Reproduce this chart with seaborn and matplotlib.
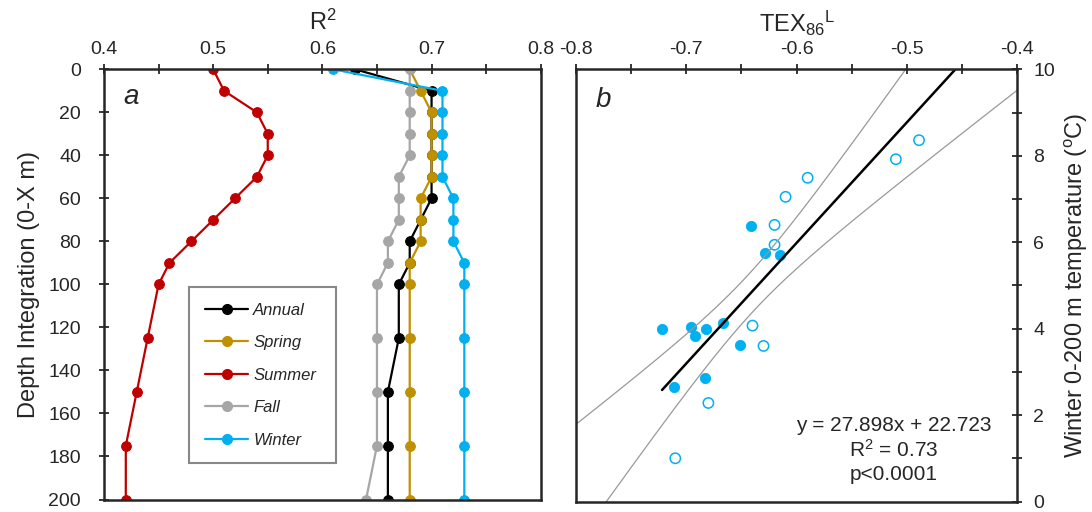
import numpy as np
import pandas as pd
import seaborn as sns
import matplotlib.pyplot as plt
from matplotlib.ticker import MultipleLocator
from matplotlib.lines import Line2D

# %%
depth = [0, 10, 20, 30, 40, 50, 60, 70, 80, 90, 100, 125, 150, 175, 200]
annual = [0.63, 0.70, 0.70, 0.70, 0.70, 0.70, 0.70, 0.69, 0.68, 0.68, 0.67, 0.67, 0.66, 0.66, 0.66]
spring = [0.68, 0.69, 0.70, 0.70, 0.70, 0.70, 0.69, 0.69, 0.69, 0.68, 0.68, 0.68, 0.68, 0.68, 0.68]
summer = [0.50, 0.51, 0.54, 0.55, 0.55, 0.54, 0.52, 0.50, 0.48, 0.46, 0.45, 0.44, 0.43, 0.42, 0.42]
fall = [0.68, 0.68, 0.68, 0.68, 0.68, 0.67, 0.67, 0.67, 0.66, 0.66, 0.65, 0.65, 0.65, 0.65, 0.64]
winter = [0.61, 0.71, 0.71, 0.71, 0.71, 0.71, 0.72, 0.72, 0.72, 0.73, 0.73, 0.73, 0.73, 0.73, 0.73]

season_names = ['Annual', 'Spring', 'Summer', 'Fall', 'Winter']
season_colors = ['#000000', '#bf9000', '#c00000', '#a6a6a6', '#00b0f0']

# panel b: TEX86L vs winter temperature
tex_filled = [-0.722, -0.696, -0.692, -0.682, -0.667, -0.651, -0.683, -0.711, -0.641, -0.629, -0.615]
temp_filled = [4.00, 4.04, 3.84, 4.00, 4.12, 3.62, 2.85, 2.64, 6.38, 5.74, 5.70]
tex_open = [-0.489, -0.510, -0.590, -0.610, -0.620, -0.620, -0.640, -0.630, -0.680, -0.710]
temp_open = [8.36, 7.92, 7.49, 7.05, 6.40, 5.94, 4.07, 3.60, 2.28, 1.00]

slope = 27.898
intercept = 22.723

# %%
sns.set_style('ticks')
plt.rcParams['font.family'] = ['Liberation Sans', 'DejaVu Sans']
plt.rcParams['mathtext.fontset'] = 'custom'
plt.rcParams['mathtext.rm'] = 'Liberation Sans'
plt.rcParams['mathtext.it'] = 'Liberation Sans:italic'
plt.rcParams['axes.unicode_minus'] = False

fig = plt.figure(figsize=(10.92, 5.12), dpi=100)
ax1 = fig.add_axes([0.0952, 0.0244, 0.4, 0.8402])
ax2 = fig.add_axes([0.5275, 0.0205, 0.404, 0.8441])

# %% panel a
df = pd.DataFrame({'depth': depth, 'Annual': annual, 'Spring': spring,
                   'Summer': summer, 'Fall': fall, 'Winter': winter})
for name, col in zip(season_names, season_colors):
    sns.lineplot(data=df, x=name, y='depth', orient='y', estimator=None, sort=True,
                 color=col, lw=1.6, marker='o', markersize=7, markeredgecolor=col,
                 ax=ax1, legend=False)

ax1.set_xlim(0.4, 0.8)
ax1.set_ylim(200, 0)
ax1.xaxis.set_major_locator(MultipleLocator(0.1))
ax1.xaxis.set_minor_locator(MultipleLocator(0.05))
ax1.yaxis.set_major_locator(MultipleLocator(20))
ax1.xaxis.tick_top()
ax1.xaxis.set_label_position('top')
ax1.set_xlabel('R$^2$', fontsize=17, labelpad=8)
ax1.set_ylabel('Depth Integration (0-X m)', fontsize=17, labelpad=6)
ax1.tick_params(axis='both', which='major', direction='inout', length=7, width=1.3, labelsize=14)
ax1.tick_params(axis='x', which='major', pad=5)
ax1.tick_params(axis='y', which='major', pad=13)
ax1.tick_params(axis='x', which='minor', direction='inout', length=7, width=1.3, top=True, bottom=False)
ax1.text(0.045, 0.935, 'a', transform=ax1.transAxes, fontsize=20, style='italic', va='center')

handles = [Line2D([], [], color=c, lw=1.6, marker='o', markersize=7, markeredgecolor=c)
           for c in season_colors]
leg = ax1.legend(handles, season_names, loc='lower left', bbox_to_anchor=(0.195, 0.084, 0.337, 0.374),
                 mode='expand', borderaxespad=0, fancybox=False, edgecolor='#888888', framealpha=1,
                 prop={'style': 'italic', 'size': 12},
                 handlelength=2.6, labelspacing=1.05, borderpad=0.95, handletextpad=0.3)
leg.get_frame().set_linewidth(1.5)

# %% panel b
sns.scatterplot(x=tex_filled, y=temp_filled, color='#00b0f0', s=55, edgecolor='#00b0f0', ax=ax2)
sns.scatterplot(x=tex_open, y=temp_open, facecolor='none', edgecolor='#00b0f0', s=55, linewidth=1.1, ax=ax2)

x_all = np.array(tex_filled + tex_open)
y_all = np.array(temp_filled + temp_open)
n = len(x_all)
resid = y_all - (slope * x_all + intercept)
s_err = np.sqrt(np.sum(resid ** 2) / (n - 2))
sxx = np.sum((x_all - x_all.mean()) ** 2)
xs = np.linspace(-0.8, -0.4, 200)
half = 2.093 * s_err * np.sqrt(1 / n + (xs - x_all.mean()) ** 2 / sxx)
fit_xs = slope * xs + intercept
sns.lineplot(x=xs, y=fit_xs + half, color='#999999', lw=0.9, ax=ax2)
sns.lineplot(x=xs, y=fit_xs - half, color='#999999', lw=0.9, ax=ax2)

x_line = np.array([x_all.min(), -0.4])
sns.lineplot(x=x_line, y=slope * x_line + intercept, color='black', lw=1.8, ax=ax2)

ax2.set_xlim(-0.8, -0.4)
ax2.set_ylim(0, 10)
ax2.xaxis.set_major_locator(MultipleLocator(0.1))
ax2.xaxis.set_minor_locator(MultipleLocator(0.05))
ax2.yaxis.set_major_locator(MultipleLocator(2))
ax2.yaxis.set_minor_locator(MultipleLocator(1))
ax2.xaxis.tick_top()
ax2.xaxis.set_label_position('top')
ax2.yaxis.tick_right()
ax2.yaxis.set_label_position('right')
ax2.set_xlabel('TEX$_{86}$$^{\\rm L}$', fontsize=17, labelpad=6)
ax2.set_ylabel('Winter 0-200 m temperature ($^{\\rm o}$C)', fontsize=17, labelpad=6)
ax2.tick_params(axis='both', which='both', direction='inout', length=7, width=1.3, labelsize=14)
ax2.tick_params(axis='x', which='major', pad=5)
ax2.tick_params(axis='y', which='major', pad=8)
ax2.text(0.045, 0.93, 'b', transform=ax2.transAxes, fontsize=20, style='italic', va='center')
ax2.text(0.72, 0.12, 'y = 27.898x + 22.723\nR$^2$ = 0.73\np<0.0001', transform=ax2.transAxes,
         fontsize=15, ha='center', va='center', linespacing=1.25)

for ax in (ax1, ax2):
    for sp in ax.spines.values():
        sp.set_visible(True)
        sp.set_linewidth(1.8)

plt.savefig('out.png', dpi=100)
